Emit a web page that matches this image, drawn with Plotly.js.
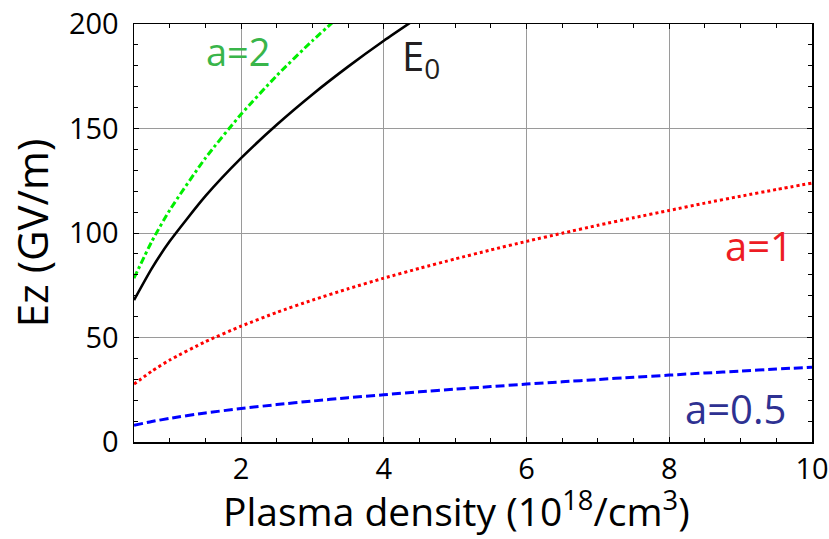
<!DOCTYPE html>
<html><head><meta charset="utf-8">
<script src="https://cdn.plot.ly/plotly-3.0.1.min.js"></script>
<style>body{margin:0;background:#fff}#c{width:829px;height:539px}</style>
</head><body><div id="c"></div>
<script>
const density = [0.5, 0.75, 1, 1.5, 2, 2.5, 3, 3.5, 4, 4.5, 5, 5.5, 6, 6.5, 7, 7.5, 8, 8.5, 9, 9.5, 10];
const ezE0   = [67.9, 83.1, 96.0, 117.6, 135.8, 151.8, 166.3, 179.6, 192.0, 203.6];
const ezA2   = [78.4, 96.0, 110.9, 135.8, 156.8, 175.3, 192.0, 207.4];
const ezA1   = [27.7, 33.9, 39.2, 48.0, 55.4, 62.0, 67.9, 73.3, 78.4, 83.1, 87.6, 91.9, 96.0, 99.9, 103.7, 107.3, 110.8, 114.3, 117.6, 120.8, 123.9];
const ezA05  = [8.0, 9.8, 11.3, 13.9, 16.0, 17.9, 19.6, 21.2, 22.6, 24.0, 25.3, 26.5, 27.7, 28.8, 29.9, 31.0, 32.0, 33.0, 33.9, 34.9, 35.8];
const xTicks = [2, 4, 6, 8, 10];
const yTicks = [0, 50, 100, 150, 200];
const labels = ['a=2', 'E<sub>0</sub>', 'a=1', 'a=0.5'];
const xTitle = 'Plasma density (10<sup>18</sup>/cm<sup>3</sup>)';
const yTitle = 'Ez (GV/m)';

const FONT = 'Open Sans, Noto Sans, DejaVu Sans, sans-serif';
const traces = [
  {x: density.slice(0, ezA05.length), y: ezA05, mode:'lines', line:{color:'#0000ff', width:3, dash:'9px,4px', shape:'spline', smoothing:0.6}},
  {x: density.slice(0, ezA1.length), y: ezA1, mode:'lines', line:{color:'#ff0000', width:3, dash:'3px,3px', shape:'spline', smoothing:0.6}},
  {x: density.slice(0, ezA2.length), y: ezA2, mode:'lines', line:{color:'#00ee00', width:3, dash:'7px,3px,3px,3px', shape:'spline', smoothing:0.6}},
  {x: density.slice(0, ezE0.length), y: ezE0, mode:'lines', line:{color:'#000000', width:2.6, shape:'spline', smoothing:0.6}}
];

const axisCommon = {
  showline:true, linecolor:'#000', linewidth:1.5, mirror:'ticks',
  ticks:'inside', ticklen:5, tickcolor:'#000', tickwidth:1,
  showgrid:true, gridcolor:'#9a9a9a', gridwidth:1, zeroline:false,
  ticklabeloverflow:'allow',
  tickfont:{family:FONT, size:29, color:'#000'}
};

const layout = {
  width:829, height:539,
  margin:{l:134, r:17, t:24, b:97},
  paper_bgcolor:'#fff', plot_bgcolor:'#fff',
  showlegend:false,
  xaxis: Object.assign({}, axisCommon, {
    range:[0.5, 10], tickvals:xTicks, ticklabelstandoff:1,
    minor:{ticks:'inside', ticklen:4, tickcolor:'#000', dtick:0.5, tick0:0.5, showgrid:false}
  }),
  yaxis: Object.assign({}, axisCommon, {
    range:[0, 200], tickvals:yTicks, ticklabelstandoff:8,
    minor:{ticks:'inside', ticklen:4, tickcolor:'#000', dtick:10, showgrid:false},
    title:{text:yTitle, font:{family:FONT, size:42, color:'#000'}, standoff:7}
  }),
  annotations: [
    {xref:'paper', yref:'paper', x:0.475, y:-0.161, text:xTitle, showarrow:false, xanchor:'center', yanchor:'middle', font:{family:FONT, size:39, color:'#000'}},
    {x:1.96, y:187, text:labels[0], showarrow:false, xanchor:'center', yanchor:'middle', font:{family:FONT, size:38, color:'#39b54a'}},
    {x:4.52, y:184, text:labels[1], showarrow:false, xanchor:'center', yanchor:'middle', font:{family:FONT, size:40, color:'#231f20'}},
    {x:9.26, y:94, text:labels[2], showarrow:false, xanchor:'center', yanchor:'middle', font:{family:FONT, size:40, color:'#ed1c24'}},
    {x:8.93, y:16, text:labels[3], showarrow:false, xanchor:'center', yanchor:'middle', font:{family:FONT, size:40, color:'#2e3192'}}
  ]
};
Plotly.newPlot('c', traces, layout, {displayModeBar:false, staticPlot:true});
</script></body></html>
